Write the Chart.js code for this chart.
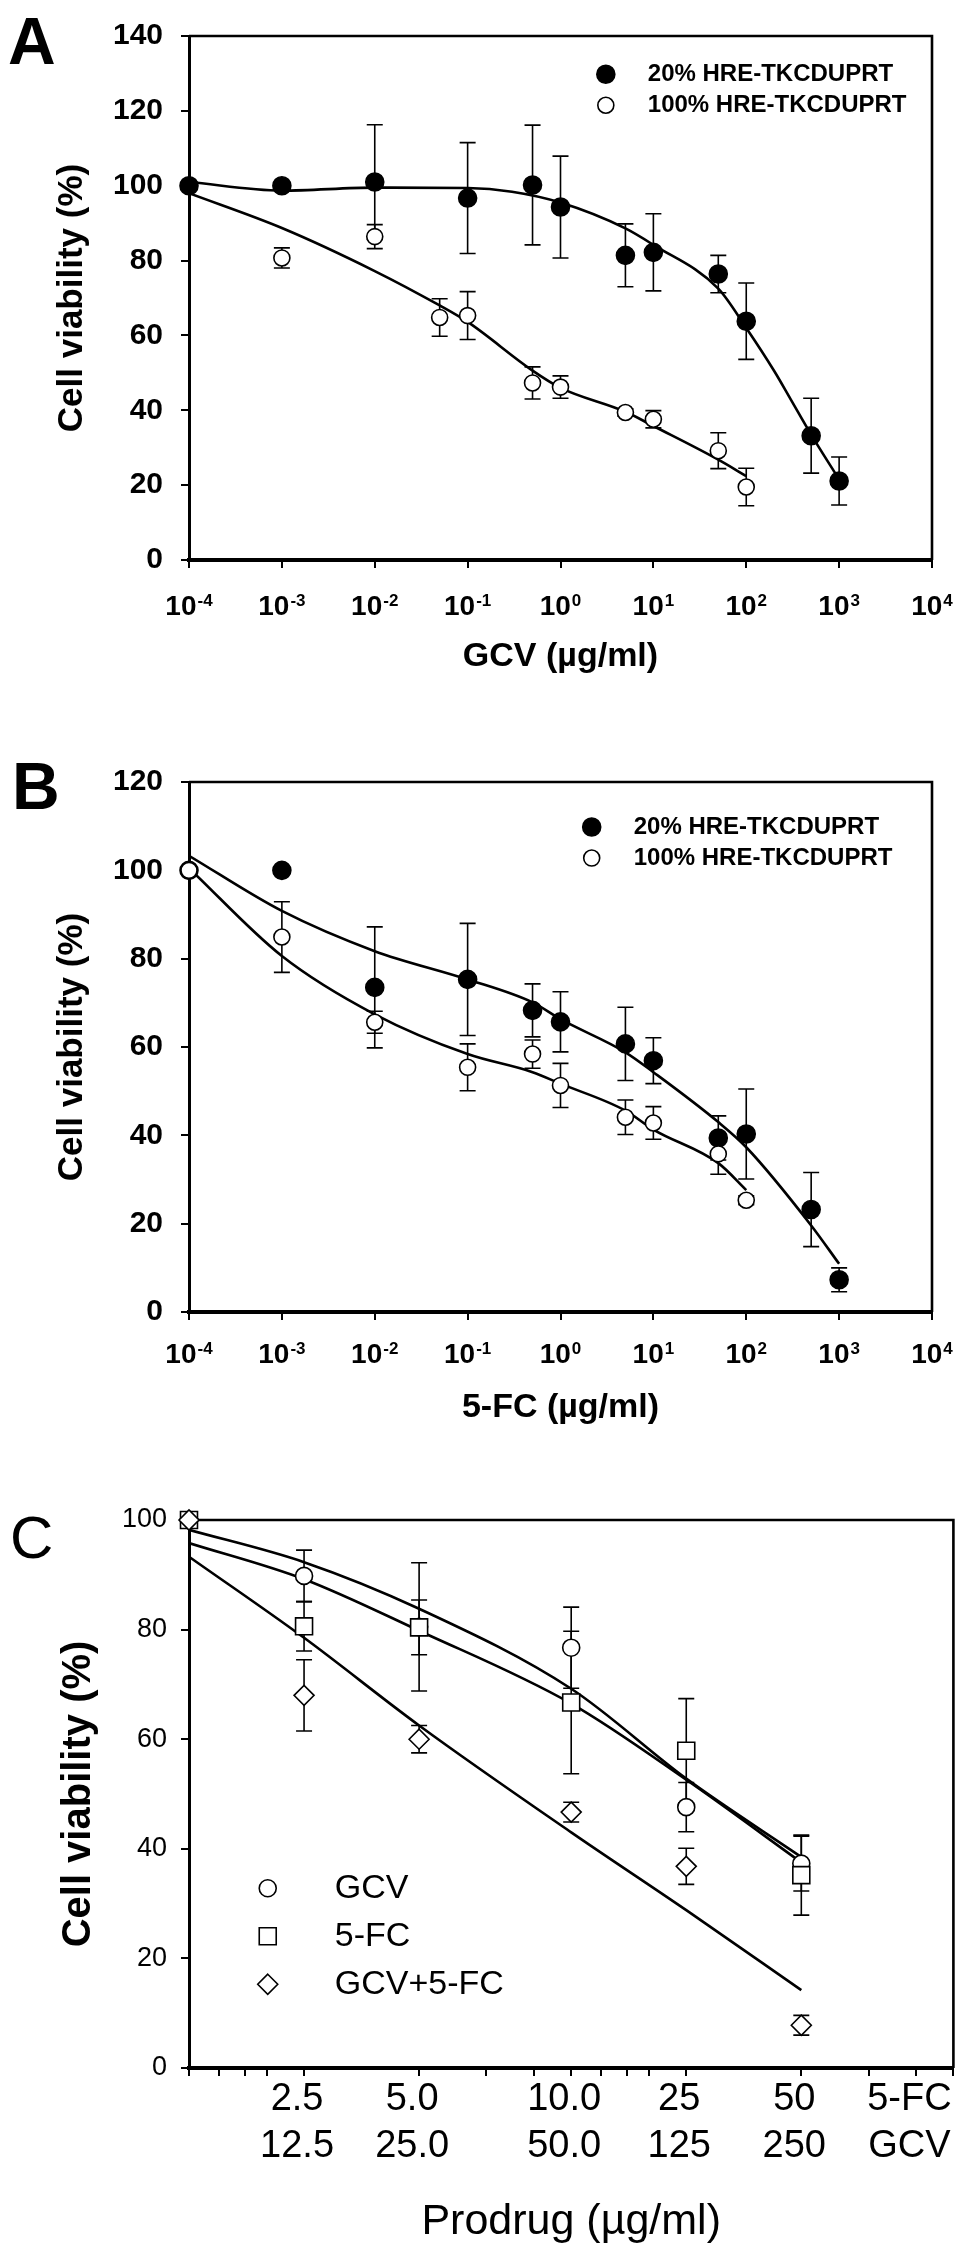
<!DOCTYPE html>
<html>
<head>
<meta charset="utf-8">
<script src="https://cdn.jsdelivr.net/npm/chart.js"></script>
<style>
  html, body { margin: 0; padding: 0; background: #fff; }
  body { width: 967px; height: 2254px; position: relative; overflow: hidden;
         font-family: "Liberation Sans", Arial, sans-serif; }
  .panel { position: absolute; left: 0; width: 967px; }
  .tag { position: absolute; line-height: 1; color: #000; }
</style>
</head>
<body>
<div class="panel" style="top:0;height:720px"><canvas id="chartA"></canvas></div>
<div class="panel" style="top:720px;height:720px"><canvas id="chartB"></canvas></div>
<div class="panel" style="top:1440px;height:814px"><canvas id="chartC"></canvas></div>
<div class="tag" style="left:8px;top:8px;font-size:66px;font-weight:bold">A</div>
<div class="tag" style="left:12px;top:753px;font-size:66px;font-weight:bold">B</div>
<div class="tag" style="left:10px;top:1508px;font-size:60px">C</div>

<script>
// ---- panel A : GCV ----
const gcvConc20 = [1e-4, 1e-3, 1e-2, 1e-1, 0.5, 1, 5, 10, 50, 100, 500, 1000];
const gcvViab20 = [100, 100, 101, 96.7, 100.2, 94.3, 81.4, 82.2, 76.4, 63.8, 33.2, 21.1];
const gcvErr20 = [0, 0, 15.3, 14.8, 16, 13.6, 8.4, 10.3, 5, 10.2, 10, 6.4];
const gcvConc100 = [1e-4, 1e-3, 1e-2, 5e-2, 1e-1, 0.5, 1, 5, 10, 50, 100];
const gcvViab100 = [100, 80.7, 86.4, 64.8, 65.3, 47.3, 46.2, 39.4, 37.6, 29.2, 19.5];
const gcvErr100 = [0, 2.7, 3.2, 5, 6.4, 4.3, 3, 1, 2.3, 4.8, 5];
const gcvFitX20 = [1e-4, 1e-3, 1e-2, 1e-1, 0.3, 1, 5, 10, 50, 100, 200, 300, 500, 1000];
const gcvFitY20 = [101, 98.7, 99.5, 99.4, 98.4, 95.5, 88.6, 84.2, 72.5, 62, 50.5, 43, 33.5, 21.5];
const gcvFitX100 = [1e-4, 1e-3, 1e-2, 5e-2, 1e-1, 0.5, 1, 5, 10, 50, 100];
const gcvFitY100 = [98, 88.7, 77.2, 68, 63.6, 50.6, 46, 39.6, 35.8, 26.8, 22.4];

// ---- panel B : 5-FC ----
const fcConc20 = [1e-4, 1e-3, 1e-2, 1e-1, 0.5, 1, 5, 10, 50, 100, 500, 1000];
const fcViab20 = [100, 100, 73.5, 75.3, 68.3, 65.7, 60.7, 56.9, 39.4, 40.3, 23.2, 7.3];
const fcErr20 = [0, 0, 13.7, 12.7, 6, 6.8, 8.3, 5.2, 5, 10.2, 8.4, 2.7];
const fcConc100 = [1e-4, 1e-3, 1e-2, 1e-1, 0.5, 1, 5, 10, 50, 100];
const fcViab100 = [100, 84.9, 65.6, 55.4, 58.4, 51.3, 44.1, 42.8, 35.8, 25.3];
const fcErr100 = [0, 8, 2.5, 5.3, 3.2, 5, 3.9, 3.7, 4.6, 1];
const fcFitX20 = [1e-4, 1e-3, 1e-2, 1e-1, 0.5, 1, 5, 10, 50, 100, 500, 1000];
const fcFitY20 = [103.3, 90.8, 81.7, 75.3, 70.1, 66.3, 58.8, 54.3, 43, 37.3, 19.6, 10.9];
const fcFitX100 = [1e-4, 1e-3, 1e-2, 1e-1, 0.5, 1, 5, 10, 50, 100];
const fcFitY100 = [100.5, 80.6, 67.4, 58.4, 54.3, 51.7, 45.6, 41.3, 33.7, 27.6];

// ---- panel C : prodrug combinations ----
const prodrugX = [1.25, 2.5, 5, 12.5, 25, 50];
const viabGcv = [100, 89.8, 80.5, 76.7, 47.6, 37.3];
const errGcv = [0, 4.7, 11.7, 7.4, 4.5, 5];
const viabFc = [100, 80.6, 80.4, 66.7, 57.9, 35.2];
const errFc = [0, 4.5, 5, 13, 9.5, 7.3];
const viabCombo = [100, 68, 60, 46.7, 36.8, 7.8];
const errCombo = [0, 6.5, 2.5, 1.8, 3.3, 1.8];
const fitGcv = [98.2, 92.3, 83.8, 69.2, 52.8, 38.5];
const fitFc = [95.8, 89.2, 79.8, 66.5, 52.6, 37.5];
const fitCombo = [93.3, 78.5, 62.5, 43, 28.8, 14.2];

// ---- tick labels ----
const decades = [1e-4, 1e-3, 1e-2, 1e-1, 1, 10, 100, 1000, 10000];
const decadeExps = ["-4", "-3", "-2", "-1", "0", "1", "2", "3", "4"];
const prodrugTicks = [1.25, 1.5, 1.75, 2, 2.5, 5, 7.5, 10, 12.5, 15, 17.5, 20, 25, 50, 75, 100, 125];
const prodrugLabelAt = [2.5, 5, 12.5, 25, 50, 100];
const fcDoseLabels = ["2.5", "5.0", "10.0", "25", "50", "5-FC"];
const gcvDoseLabels = ["12.5", "25.0", "50.0", "125", "250", "GCV"];

const FONT = '"Liberation Sans", Arial, sans-serif';
Chart.defaults.font.family = FONT;
Chart.defaults.color = "#000";

const pts = (xs, ys) => xs.map((x, i) => ({ x: x, y: ys[i] }));

function drawMarker(ctx, style, x, y, r, fill, stroke, lw) {
  ctx.save();
  ctx.fillStyle = fill;
  ctx.strokeStyle = stroke;
  ctx.lineWidth = lw;
  ctx.beginPath();
  if (style === "rect") {
    const s = r * Math.SQRT1_2;
    ctx.rect(x - s, y - s, 2 * s, 2 * s);
  } else if (style === "rectRot") {
    ctx.moveTo(x, y - r); ctx.lineTo(x + r, y); ctx.lineTo(x, y + r); ctx.lineTo(x - r, y);
    ctx.closePath();
  } else {
    ctx.arc(x, y, r, 0, Math.PI * 2);
  }
  ctx.fill();
  ctx.stroke();
  ctx.restore();
}

// error bars, drawn under the markers
const errorBars = {
  id: "errorBars",
  beforeDatasetsDraw(chart) {
    const { ctx, scales: { x, y } } = chart;
    ctx.save();
    ctx.strokeStyle = "#000";
    ctx.lineWidth = 1.6;
    chart.data.datasets.forEach(ds => {
      if (!ds.errors) return;
      ds.data.forEach((p, j) => {
        const e = ds.errors[j];
        if (!e) return;
        const px = x.getPixelForValue(p.x);
        const top = y.getPixelForValue(p.y + e);
        const bot = y.getPixelForValue(p.y - e);
        ctx.beginPath();
        ctx.moveTo(px, top); ctx.lineTo(px, bot);
        ctx.moveTo(px - 8, top); ctx.lineTo(px + 8, top);
        ctx.moveTo(px - 8, bot); ctx.lineTo(px + 8, bot);
        ctx.stroke();
      });
    });
    ctx.restore();
  }
};

// top and right edges of the plot box
const frame = {
  id: "frame",
  beforeDatasetsDraw(chart) {
    const { ctx, chartArea: a } = chart;
    ctx.save();
    ctx.strokeStyle = "#000";
    ctx.lineWidth = 2.6;
    ctx.beginPath();
    ctx.moveTo(a.left, a.top); ctx.lineTo(a.right, a.top); ctx.lineTo(a.right, a.bottom);
    ctx.stroke();
    ctx.restore();
  }
};

// "10" with a raised exponent under each decade tick
const powerLabels = {
  id: "powerLabels",
  afterDraw(chart, args, opts) {
    if (!opts.values) return;
    const { ctx, chartArea: a, scales: { x } } = chart;
    const big = "bold 28px " + FONT, small = "bold 17px " + FONT;
    const base = a.bottom + opts.offset;
    ctx.save();
    ctx.fillStyle = "#000";
    ctx.textBaseline = "alphabetic";
    ctx.textAlign = "left";
    opts.values.forEach((v, i) => {
      ctx.font = big;
      const wb = ctx.measureText("10").width;
      ctx.font = small;
      const we = ctx.measureText(opts.exps[i]).width;
      const left = x.getPixelForValue(v) - (wb + we + 1) / 2;
      ctx.font = big;
      ctx.fillText("10", left, base);
      ctx.font = small;
      ctx.fillText(opts.exps[i], left + wb + 1, base - 9);
    });
    ctx.restore();
  }
};

// legend placed inside the plot area
const insideLegend = {
  id: "insideLegend",
  afterDraw(chart, args, opts) {
    if (!opts.items) return;
    const { ctx, chartArea: a } = chart;
    const x0 = a.left + opts.x * a.width;
    const y0 = a.top + opts.y * a.height;
    opts.items.forEach((idx, k) => {
      const ds = chart.data.datasets[idx];
      const yy = y0 + k * opts.spacing;
      drawMarker(ctx, ds.pointStyle, x0, yy, ds.pointRadius, ds.pointBackgroundColor, "#000", ds.pointBorderWidth);
      ctx.save();
      ctx.font = opts.font;
      ctx.fillStyle = "#000";
      ctx.textBaseline = "middle";
      ctx.textAlign = "left";
      ctx.fillText(ds.label, x0 + opts.gap, yy);
      ctx.restore();
    });
  }
};

function markers(label, xs, ys, errs, style, r, fill, order) {
  return {
    label: label, data: pts(xs, ys), errors: errs,
    pointStyle: style, pointRadius: r, pointHoverRadius: r,
    pointBackgroundColor: fill, pointBorderColor: "#000", pointBorderWidth: 1.6,
    backgroundColor: fill, borderColor: "#000",
    showLine: false, clip: false, order: order
  };
}

function fitLine(xs, ys) {
  return {
    label: "fit", data: pts(xs, ys), showLine: true, pointRadius: 0,
    borderColor: "#000", borderWidth: 2.6, fill: false,
    tension: 0.4, cubicInterpolationMode: "monotone", order: 5
  };
}

function logPanel(id, opts) {
  new Chart(document.getElementById(id), {
    type: "scatter",
    data: { datasets: opts.datasets },
    plugins: [errorBars, frame, powerLabels, insideLegend],
    options: {
      responsive: true, maintainAspectRatio: false, animation: false, events: [],
      layout: { padding: opts.padding },
      plugins: {
        legend: { display: false }, tooltip: { enabled: false },
        powerLabels: { values: decades, exps: decadeExps, offset: opts.labelOffset },
        insideLegend: { items: [0, 1], x: opts.legX, y: opts.legY, spacing: 31, gap: 42,
                        font: "bold 24px " + FONT }
      },
      scales: {
        x: {
          type: "logarithmic", min: 1e-4, max: 1e4,
          afterBuildTicks: s => { s.ticks = decades.map(v => ({ value: v })); },
          ticks: { display: false },
          grid: { drawOnChartArea: false, drawTicks: true, tickLength: 8, color: "#000", lineWidth: 2 },
          border: { display: true, color: "#000", width: 4 },
          title: { display: true, text: opts.xTitle, font: { size: 34, weight: "bold", lineHeight: 1 },
                   padding: { top: 0, bottom: opts.xTitlePad } },
          afterFit: s => { s.height = opts.xHeight; }
        },
        y: {
          min: 0, max: opts.yMax,
          ticks: { stepSize: 20, font: { size: 30, weight: "bold" }, padding: 18 },
          grid: { drawOnChartArea: false, drawTicks: true, tickLength: 8, color: "#000", lineWidth: 2 },
          border: { display: true, color: "#000", width: 3 },
          title: { display: true, text: "Cell viability (%)", font: { size: 35, weight: "bold", lineHeight: 1 },
                   padding: { top: 55, bottom: 0 } },
          afterFit: s => { s.width = 189; }
        }
      }
    }
  });
}

logPanel("chartA", {
  datasets: [
    markers("20% HRE-TKCDUPRT", gcvConc20, gcvViab20, gcvErr20, "circle", 9, "#000", 0),
    markers("100% HRE-TKCDUPRT", gcvConc100, gcvViab100, gcvErr100, "circle", 8, "#fff", 1),
    fitLine(gcvFitX20, gcvFitY20),
    fitLine(gcvFitX100, gcvFitY100)
  ],
  padding: { left: 0, right: 35, top: 28, bottom: 20 },
  xHeight: 140, labelOffset: 55, xTitlePad: 26, yMax: 140,
  xTitle: "GCV (µg/ml)", legX: 0.561, legY: 0.073
});

logPanel("chartB", {
  datasets: [
    markers("20% HRE-TKCDUPRT", fcConc20, fcViab20, fcErr20, "circle", 9, "#000", 1),
    markers("100% HRE-TKCDUPRT", fcConc100, fcViab100, fcErr100, "circle", 8, "#fff", 0),
    fitLine(fcFitX20, fcFitY20),
    fitLine(fcFitX100, fcFitY100)
  ],
  padding: { left: 0, right: 35, top: 62, bottom: 8 },
  xHeight: 120, labelOffset: 51, xTitlePad: 7, yMax: 120,
  xTitle: "5-FC (µg/ml)", legX: 0.542, legY: 0.085
});

new Chart(document.getElementById("chartC"), {
  type: "scatter",
  data: {
    datasets: [
      markers("GCV", prodrugX, viabGcv, errGcv, "circle", 8.5, "#fff", 2),
      markers("5-FC", prodrugX, viabFc, errFc, "rect", 12, "#fff", 1),
      markers("GCV+5-FC", prodrugX, viabCombo, errCombo, "rectRot", 10, "#fff", 0),
      fitLine(prodrugX, fitGcv),
      fitLine(prodrugX, fitFc),
      fitLine(prodrugX, fitCombo)
    ]
  },
  plugins: [errorBars, frame, insideLegend],
  options: {
    responsive: true, maintainAspectRatio: false, animation: false, events: [],
    layout: { padding: { left: 0, right: 9, top: 80, bottom: 6 } },
    plugins: {
      legend: { display: false }, tooltip: { enabled: false },
      insideLegend: { items: [0, 1, 2], x: 0.103, y: 0.672, spacing: 48, gap: 67,
                      font: "34px " + FONT }
    },
    scales: {
      x: {
        type: "logarithmic", min: 1.25, max: 125,
        afterBuildTicks: s => { s.ticks = prodrugTicks.map(v => ({ value: v })); },
        ticks: {
          callback: v => {
            const k = prodrugLabelAt.indexOf(v);
            return k < 0 ? "" : [fcDoseLabels[k], gcvDoseLabels[k]];
          },
          autoSkip: false, maxRotation: 0, labelOffset: -7,
          font: { size: 38, lineHeight: 1.24 }, padding: 0
        },
        grid: { drawOnChartArea: false, drawTicks: true, tickLength: 8, color: "#000", lineWidth: 2 },
        border: { display: true, color: "#000", width: 4 },
        title: { display: true, text: "Prodrug (µg/ml)", font: { size: 43, lineHeight: 1 },
                 padding: { top: 0, bottom: 4 } },
        afterFit: s => { s.height = 180; }
      },
      y: {
        min: 0, max: 100,
        ticks: { stepSize: 20, font: { size: 27 }, padding: 14 },
        grid: { drawOnChartArea: false, drawTicks: true, tickLength: 8, color: "#000", lineWidth: 2 },
        border: { display: true, color: "#000", width: 3 },
        title: { display: true, text: "Cell viability (%)", font: { size: 40, weight: "bold", lineHeight: 1 },
                 padding: { top: 59, bottom: 0 } },
        afterFit: s => { s.width = 189; }
      }
    }
  }
});
</script>
</body>
</html>
